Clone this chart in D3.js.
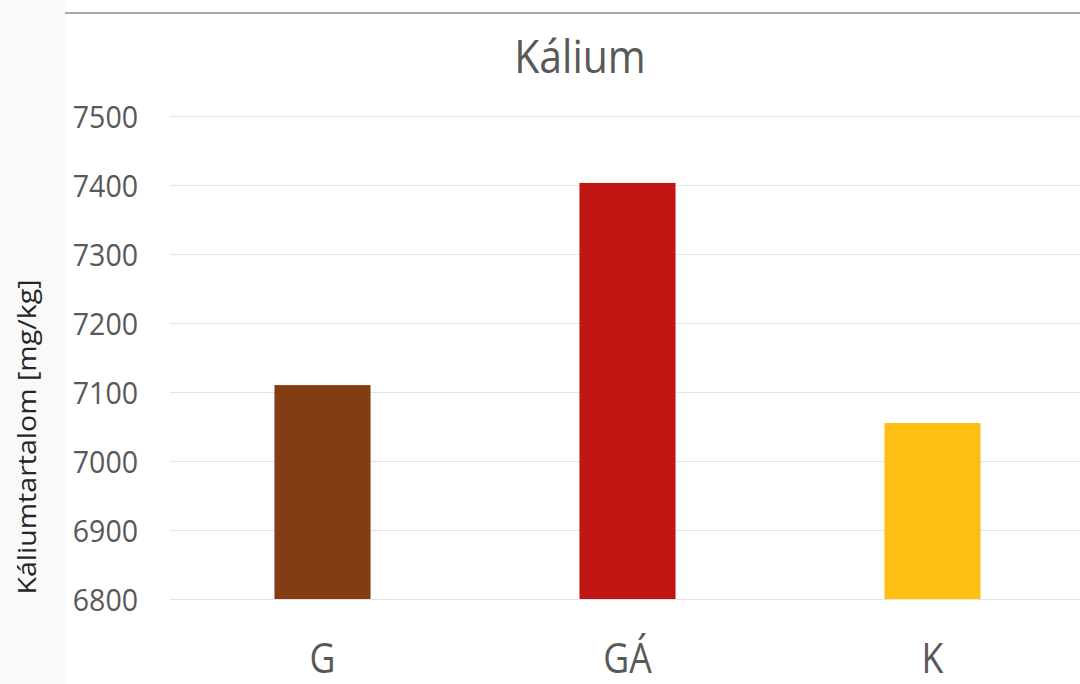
<!DOCTYPE html>
<html>
<head>
<meta charset="utf-8">
<script src="https://cdn.jsdelivr.net/npm/d3@7"></script>
<style>
  html, body { margin: 0; padding: 0; background: #fff; }
  svg { display: block; }
  svg text { font-family: "Open Sans", "Noto Sans", sans-serif; }
</style>
</head>
<body>
<svg id="chart" width="1080" height="684"></svg>
<script>
// Potassium content per sample group
const categories = ["G", "GÁ", "K"];
const values = [7110, 7403, 7055];
const barColors = ["#843C15", "#C01512", "#FDBF14"];
const yTicks = [6800, 6900, 7000, 7100, 7200, 7300, 7400, 7500];
const chartTitle = "Kálium";
const yAxisTitle = "Káliumtartalom [mg/kg]";

const svg = d3.select("#chart");
const W = 1080, H = 684;
const plot = { left: 170, right: 1085, top: 116, bottom: 599 };
const FONT = '"Open Sans", "Noto Sans", sans-serif';

// narrow the glyphs a little, Calibri-like proportions
function condense(sel, k) {
  sel.each(function () {
    const w = this.getComputedTextLength();
    d3.select(this).attr("textLength", w * k).attr("lengthAdjust", "spacingAndGlyphs");
  });
}

// pale strip on the left edge and the rule along the top
svg.append("rect").attr("x", 0).attr("y", 0).attr("width", 66).attr("height", H).attr("fill", "#f9f9f9");
svg.append("line").attr("x1", 65).attr("x2", W).attr("y1", 13).attr("y2", 13)
  .attr("stroke", "#8c8c8c").attr("stroke-width", 1.5);

const x = d3.scaleBand().domain(categories).range([plot.left, plot.right])
  .paddingInner(0.685).paddingOuter(0.3425);
const y = d3.scaleLinear().domain([6800, 7500]).range([plot.bottom, plot.top]);

// horizontal gridlines and value labels
const yAxis = d3.axisLeft(y).tickValues(yTicks).tickSize(-(W - plot.left)).tickPadding(32).tickFormat(d3.format("d"));
const gy = svg.append("g").attr("transform", `translate(${plot.left},0)`).call(yAxis)
  .attr("font-family", FONT);
gy.select(".domain").remove();
gy.selectAll(".tick line").attr("stroke", "#e4e4e4").attr("stroke-width", 1.2);
gy.selectAll(".tick text").attr("fill", "#595959").attr("font-size", 31).attr("dy", "0.36em")
  .call(condense, 0.92);

// bars
svg.append("g").selectAll("rect").data(categories).join("rect")
  .attr("x", d => x(d))
  .attr("width", x.bandwidth())
  .attr("y", (d, i) => y(values[i]))
  .attr("height", (d, i) => y(6800) - y(values[i]))
  .attr("fill", (d, i) => barColors[i]);

// category labels
const xAxis = d3.axisBottom(x).tickSize(0).tickPadding(0);
const gx = svg.append("g").attr("transform", `translate(0,${plot.bottom})`).call(xAxis)
  .attr("font-family", FONT);
gx.select(".domain").remove();
gx.selectAll(".tick text").attr("fill", "#595959").attr("font-size", 42)
  .attr("y", 74).attr("dy", 0).call(condense, 0.85);

// title
svg.append("text").attr("x", 580).attr("y", 73).attr("text-anchor", "middle")
  .attr("fill", "#595959").attr("font-size", 45).text(chartTitle).call(condense, 0.91);

// y axis title
svg.append("text").attr("transform", "translate(36,437) rotate(-90)").attr("text-anchor", "middle")
  .attr("fill", "#262626").attr("font-size", 25).text(yAxisTitle)
  .each(function () {
    d3.select(this).attr("textLength", 315).attr("lengthAdjust", "spacingAndGlyphs");
  });
</script>
</body>
</html>
